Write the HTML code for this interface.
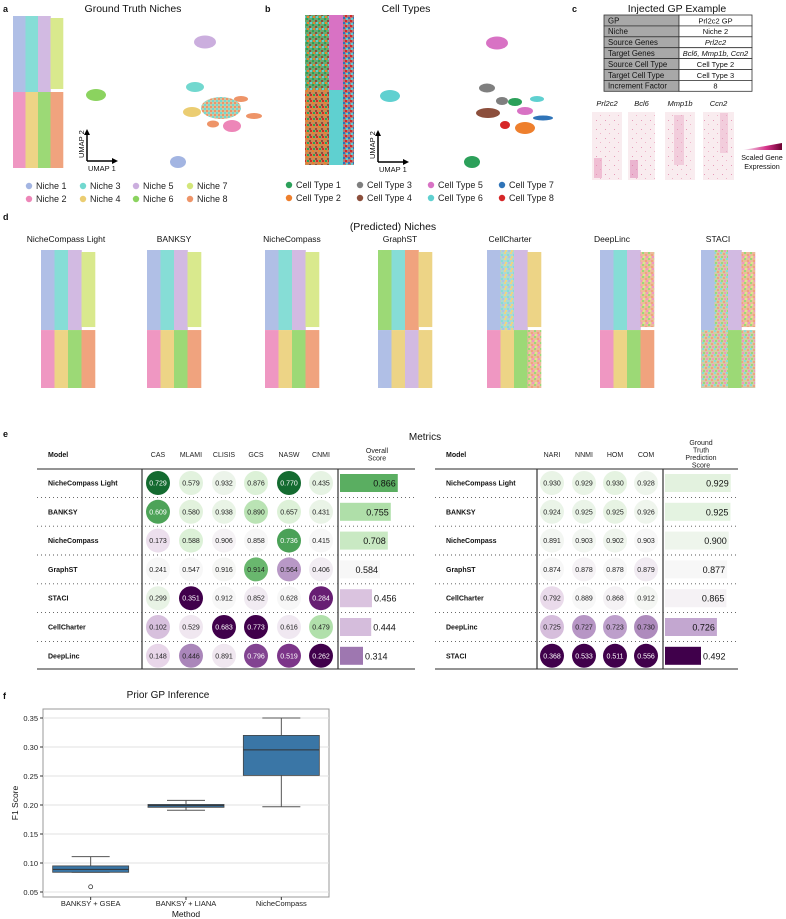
<!DOCTYPE html>
<html><head><meta charset="utf-8"><style>
html,body{margin:0;padding:0;background:#fff}
svg{display:block;font-family:"Liberation Sans",Arial,sans-serif}
</style></head><body>
<svg id="fig" width="786" height="919" viewBox="0 0 786 919" xmlns="http://www.w3.org/2000/svg">
<defs>
<pattern id="mixA" width="6" height="6" patternUnits="userSpaceOnUse"><rect width="6" height="6" fill="#9fd3c8"/><rect x="0" y="0" width="2" height="2" fill="#ebcd72"/><rect x="3" y="2" width="2" height="2" fill="#72d8cf"/><rect x="1" y="4" width="2" height="2" fill="#ebcd72"/><rect x="4" y="4" width="2" height="2" fill="#a3b5e2"/></pattern>
<pattern id="mixB" width="6" height="6" patternUnits="userSpaceOnUse"><rect width="6" height="6" fill="#e8b08a"/><rect x="0" y="0" width="2" height="2" fill="#8bd35f"/><rect x="3" y="2" width="2" height="2" fill="#ee9468"/><rect x="1" y="4" width="2" height="2" fill="#d3e67a"/><rect x="4" y="4" width="2" height="2" fill="#ed86b8"/></pattern>
<pattern id="mixC" width="6" height="6" patternUnits="userSpaceOnUse"><rect width="6" height="6" fill="#c9c49a"/><rect x="0" y="0" width="2" height="2" fill="#72d8cf"/><rect x="3" y="1" width="2" height="2" fill="#ee9468"/><rect x="1" y="4" width="2" height="2" fill="#8bd35f"/><rect x="4" y="4" width="2" height="2" fill="#ed86b8"/></pattern>
<pattern id="ctTop" width="6" height="6" patternUnits="userSpaceOnUse"><rect width="6" height="6" fill="#6aa870"/><rect x="0" y="0" width="2" height="2" fill="#2ca05a"/><rect x="3" y="2" width="2" height="2" fill="#8c4f3c"/><rect x="1" y="4" width="2" height="2" fill="#ee7f2d"/><rect x="4" y="4" width="2" height="2" fill="#5fd0d0"/></pattern>
<pattern id="ctBot" width="6" height="6" patternUnits="userSpaceOnUse"><rect width="6" height="6" fill="#c98a55"/><rect x="0" y="0" width="2" height="2" fill="#ee7f2d"/><rect x="3" y="2" width="2" height="2" fill="#8c4f3c"/><rect x="1" y="4" width="2" height="2" fill="#2ca05a"/><rect x="4" y="4" width="2" height="2" fill="#d62728"/></pattern>
<pattern id="ctR" width="5" height="5" patternUnits="userSpaceOnUse"><rect width="5" height="5" fill="#b07a7a"/><rect x="0" y="0" width="2" height="2" fill="#d62728"/><rect x="3" y="2" width="2" height="2" fill="#2f74b8"/><rect x="1" y="3" width="2" height="2" fill="#5fd0d0"/></pattern>
<pattern id="gene" width="9" height="9" patternUnits="userSpaceOnUse"><rect width="9" height="9" fill="#f9ecef"/><rect x="2" y="3" width="1" height="1" fill="#e59ab8"/><rect x="6" y="7" width="1" height="1" fill="#eeb5c8"/></pattern>
<pattern id="umapMix" width="4" height="4" patternUnits="userSpaceOnUse"><rect width="4" height="4" fill="#c7c9a8"/><rect width="2" height="2" fill="#72d8cf"/><rect x="2" y="2" width="2" height="2" fill="#ee9468"/></pattern>
<linearGradient id="cbar" x1="0" x2="1"><stop offset="0" stop-color="#f5eef5"/><stop offset="0.6" stop-color="#d6338a"/><stop offset="1" stop-color="#6b0030"/></linearGradient>
</defs>
<g id="root"></g>
</svg>
<script>
// ---------------- data ----------------
var nicheNames = ["Niche 1","Niche 2","Niche 3","Niche 4","Niche 5","Niche 6","Niche 7","Niche 8"];
var cellTypeNames = ["Cell Type 1","Cell Type 2","Cell Type 3","Cell Type 4","Cell Type 5","Cell Type 6","Cell Type 7","Cell Type 8"];
var methodNames = ["NicheCompass Light","BANKSY","NicheCompass","GraphST","CellCharter","DeepLinc","STACI"];
var leftModels = ["NicheCompass Light","BANKSY","NicheCompass","GraphST","STACI","CellCharter","DeepLinc"];
var leftMetrics = ["CAS","MLAMI","CLISIS","GCS","NASW","CNMI"];
var leftValues = [
 [0.729,0.579,0.932,0.876,0.770,0.435],
 [0.609,0.580,0.938,0.890,0.657,0.431],
 [0.173,0.588,0.906,0.858,0.736,0.415],
 [0.241,0.547,0.916,0.914,0.564,0.406],
 [0.299,0.351,0.912,0.852,0.628,0.284],
 [0.102,0.529,0.683,0.773,0.616,0.479],
 [0.148,0.446,0.891,0.796,0.519,0.262]];
var leftOverall = [0.866,0.755,0.708,0.584,0.456,0.444,0.314];
var rightModels = ["NicheCompass Light","BANKSY","NicheCompass","GraphST","CellCharter","DeepLinc","STACI"];
var rightMetrics = ["NARI","NNMI","HOM","COM"];
var rightValues = [
 [0.930,0.929,0.930,0.928],
 [0.924,0.925,0.925,0.926],
 [0.891,0.903,0.902,0.903],
 [0.874,0.878,0.878,0.879],
 [0.792,0.889,0.868,0.912],
 [0.725,0.727,0.723,0.730],
 [0.368,0.533,0.511,0.556]];
var rightOverall = [0.929,0.925,0.900,0.877,0.865,0.726,0.492];
var boxCategories = ["BANKSY + GSEA","BANKSY + LIANA","NicheCompass"];
var boxWhiskerLow = [0.084,0.191,0.197];
var boxQ1 = [0.084,0.196,0.251];
var boxMedian = [0.089,0.199,0.295];
var boxQ3 = [0.095,0.201,0.320];
var boxWhiskerHigh = [0.111,0.208,0.350];
var boxOutliers = [[0.059],[],[]];
var yTicks = [0.05,0.10,0.15,0.20,0.25,0.30,0.35];

// ---------------- helpers ----------------
var NS="http://www.w3.org/2000/svg";
var root=document.getElementById('root');
function mk(tag,attrs,parent,text){var e=document.createElementNS(NS,tag);for(var k in attrs)e.setAttribute(k,attrs[k]);if(text!==undefined)e.textContent=text;(parent||root).appendChild(e);return e;}
function txt(x,y,s,size,opts,parent){opts=opts||{};var a={x:x,y:y,'font-size':size,fill:opts.fill||'#111','text-anchor':opts.anchor||'start'};if(opts.weight)a['font-weight']=opts.weight;if(opts.style)a['font-style']=opts.style;if(opts.transform)a.transform=opts.transform;var t=mk('text',a,parent,s);return t;}
var NC={1:"#a3b5e2",2:"#ed86b8",3:"#72d8cf",4:"#ebcd72",5:"#cbaede",6:"#8bd35f",7:"#d3e67a",8:"#ee9468",A:"url(#mixA)",B:"url(#mixB)",C:"url(#mixC)"};
var CT=["#2ca05a","#ee7f2d","#7f7f7f","#8c4f3c","#d872c4","#5fd0d0","#2f74b8","#d62728"];

function tissue(x,y,w,h,top,bot,name,split){
  var g=mk('g',{opacity:0.85});
  
  
  var sw=w/4, mid=y+h*split;
  for(var i=0;i<4;i++){
    var r1=mk('rect',{x:x+i*sw,y:y+(i==3?2:0),width:sw+0.3,height:mid-y-(i==3?5:0),fill:NC[top[i]]},g);
    
    
    var r2=mk('rect',{x:x+i*sw,y:mid,width:sw+0.3,height:y+h-mid,fill:NC[bot[i]]},g);
    
    
  }
  return g;
}

// panel letters & titles
txt(3,12,"a",9,{weight:'bold',name:'panel-a-letter'});
txt(133,12,"Ground Truth Niches",10.5,{anchor:'middle',name:'panel-a-title'});
txt(265,12,"b",9,{weight:'bold',name:'panel-b-letter'});
txt(406,12,"Cell Types",10.5,{anchor:'middle',name:'panel-b-title'});
txt(572,12,"c",9,{weight:'bold',name:'panel-c-letter'});
txt(677,12,"Injected GP Example",10.5,{anchor:'middle',name:'panel-c-title'});
txt(3,220,"d",9,{weight:'bold',name:'panel-d-letter'});
txt(393,230,"(Predicted) Niches",10.5,{anchor:'middle',name:'panel-d-title'});
txt(3,437,"e",9,{weight:'bold',name:'panel-e-letter'});
txt(425,440,"Metrics",10,{anchor:'middle',name:'panel-e-title'});
txt(3,699,"f",9,{weight:'bold',name:'panel-f-letter'});

// panel a
tissue(13,16,50,152,[1,3,5,7],[2,4,6,8],'ground-truth-tissue',0.5);
function blob(cx,cy,rx,ry,fill,name){var e=mk('ellipse',{cx:cx,cy:cy,rx:rx,ry:ry,fill:fill});return e;}
blob(205,42,11,6.5,NC[5],'umap-niche5');
blob(195,87,9,5,NC[3],'umap-niche3');
blob(96,95,10,6,NC[6],'umap-niche6');
blob(241,99,7,3,NC[8],'umap-niche8-arm');
blob(254,116,8,3,NC[8],'umap-niche8-arm2');
blob(213,124,6,3.5,NC[8],'umap-niche8-arm3');
blob(221,108,20,11,'url(#umapMix)','umap-mixed-cluster');
blob(192,112,9,5,NC[4],'umap-niche4');
blob(232,126,9,6,NC[2],'umap-niche2');
blob(178,162,8,6,NC[1],'umap-niche1');
function arrows(x,y,name){
  var g=mk('g',{});
  mk('line',{x1:x,y1:y,x2:x,y2:y-27,stroke:'#000','stroke-width':1.5},g);
  mk('polygon',{points:(x-3)+','+(y-26)+' '+(x+3)+','+(y-26)+' '+x+','+(y-32),fill:'#000'},g);
  mk('line',{x1:x,y1:y,x2:x+26,y2:y,stroke:'#000','stroke-width':1.5},g);
  mk('polygon',{points:(x+25)+','+(y-3)+' '+(x+25)+','+(y+3)+' '+(x+31)+','+y,fill:'#000'},g);
  txt(x-3,y-3,"UMAP 2",7.5,{transform:'rotate(-90 '+(x-3)+' '+(y-3)+')',name:'umap2-label'},g);
  txt(x+1,y+10,"UMAP 1",7.5,{name:'umap1-label'},g);
}
arrows(87,161,'umap-axes-a');
function legend(items,colors,xs,y0,name){
  for(var i=0;i<items.length;i++){
    var col=i%4,row=Math.floor(i/4);
    var g=mk('g',{});
    mk('circle',{cx:xs[col],cy:y0+row*13-3,r:3.2,fill:colors[i]},g);
    txt(xs[col]+7,y0+row*13,items[i],9,{fill:'#222',name:'legend-label'},g);
  }
}
legend(["Niche 1","Niche 3","Niche 5","Niche 7","Niche 2","Niche 4","Niche 6","Niche 8"],[NC[1],NC[3],NC[5],NC[7],NC[2],NC[4],NC[6],NC[8]],[29,83,136,190],189,'niche-legend');

// panel b
(function(){
  var g=mk('g',{});
  mk('rect',{x:305,y:15,width:24,height:75,fill:'url(#ctTop)'},g);
  mk('rect',{x:305,y:90,width:24,height:75,fill:'url(#ctBot)'},g);
  mk('rect',{x:329,y:15,width:14,height:75,fill:CT[4]},g);
  mk('rect',{x:329,y:90,width:14,height:75,fill:CT[5]},g);
  mk('rect',{x:343,y:15,width:11,height:150,fill:'url(#ctR)'},g);
})();
blob(497,43,11,6.5,CT[4],'umap-ct5');
blob(390,96,10,6,CT[5],'umap-ct6');
blob(472,162,8,6,CT[0],'umap-ct1');
blob(487,88,8,4.5,CT[2],'umap-ct3');
blob(502,101,6,4,CT[2],'umap-ct3b');
blob(537,99,7,3,CT[5],'umap-ct6b');
blob(515,102,7,4,CT[0],'umap-ct1b');
blob(488,113,12,5,CT[3],'umap-ct4');
blob(525,111,8,4,CT[4],'umap-ct5b');
blob(543,118,10,2.5,CT[6],'umap-ct7');
blob(525,128,10,6,CT[1],'umap-ct2');
blob(505,125,5,4,CT[7],'umap-ct8');
arrows(378,162,'umap-axes-b');
legend(cellTypeNames.filter(function(_,i){return i%2==0}).concat(cellTypeNames.filter(function(_,i){return i%2==1})),[CT[0],CT[2],CT[4],CT[6],CT[1],CT[3],CT[5],CT[7]],[289,360,431,502],188,'cell-type-legend');

// panel c table
(function(){
  var rows=[["GP","Prl2c2 GP",0],["Niche","Niche 2",0],["Source Genes","Prl2c2",1],["Target Genes","Bcl6, Mmp1b, Ccn2",1],["Source Cell Type","Cell Type 2",0],["Target Cell Type","Cell Type 3",0],["Increment Factor","8",0]];
  var g=mk('g',{});
  var x0=604,xm=679,x1=752,y0=15,rh=10.9;
  rows.forEach(function(r,i){
    var y=y0+i*rh;
    mk('rect',{x:x0,y:y,width:xm-x0,height:rh,fill:'#a8a8a8',stroke:'#333','stroke-width':0.8},g);
    mk('rect',{x:xm,y:y,width:x1-xm,height:rh,fill:'#fff',stroke:'#333','stroke-width':0.8},g);
    txt(x0+4,y+8.3,r[0],7.8,{fill:'#111',name:'table-key'},g);
    txt((xm+x1)/2,y+8.3,r[1],7.5,{anchor:'middle',style:r[2]?'italic':null,name:'table-value'},g);
  });
})();
[["Prl2c2",592,622],["Bcl6",628,655],["Mmp1b",665,695],["Ccn2",703,734]].forEach(function(gn){
  var g=mk('g',{});
  mk('rect',{x:gn[1],y:112,width:gn[2]-gn[1],height:68,fill:'url(#gene)'},g);
  txt((gn[1]+gn[2])/2,106,gn[0],7.5,{anchor:'middle',style:'italic',name:'gene-label'},g);
});
mk('rect',{x:594,y:158,width:8,height:20,fill:'#e890b8',opacity:0.5});
mk('rect',{x:630,y:160,width:8,height:18,fill:'#d870a8',opacity:0.45});
mk('rect',{x:674,y:115,width:10,height:50,fill:'#e8a0c0',opacity:0.4});
mk('rect',{x:720,y:113,width:8,height:40,fill:'#e8a0c0',opacity:0.4});
var cb=mk('polygon',{points:'743,150 782,143 782,150',fill:'url(#cbar)'});

txt(762,160,"Scaled Gene",7.2,{anchor:'middle',name:'colorbar-label'});
txt(762,169,"Expression",7.2,{anchor:'middle',name:'colorbar-label'});

// panel d
var methodTissues={
 "NicheCompass Light":[[1,3,5,7],[2,4,6,8]],
 "BANKSY":[[1,3,5,7],[2,4,6,8]],
 "NicheCompass":[[1,3,5,7],[2,4,6,8]],
 "GraphST":[[6,3,8,4],[1,4,5,4]],
 "CellCharter":[[1,'A',5,4],[2,4,6,'B']],
 "DeepLinc":[[1,3,5,'B'],[2,4,6,8]],
 "STACI":[[1,'C',5,'B'],['C','C',6,'C']]};
var tissueX=[41,147,265,378,487,600,701];
var titleX=[66,174,292,400,510,612,718];
methodNames.forEach(function(m,i){
  txt(titleX[i],242,m,8.5,{anchor:'middle',name:'method-title'});
  tissue(tissueX[i],250,54,138,methodTissues[m][0],methodTissues[m][1],'predicted-niches-'+m.toLowerCase().replace(/ /g,'-'),0.58);
});

// panel e
var PRGn=["#40004b","#762a83","#9970ab","#c2a5cf","#e7d4e8","#f7f7f7","#d9f0d3","#a6dba0","#5aae61","#1b7837","#00441b"];
function hex(c){return [parseInt(c.substr(1,2),16),parseInt(c.substr(3,2),16),parseInt(c.substr(5,2),16)];}
function cmap(t){t=Math.max(-1,Math.min(1,t));var p=(t+1)/2*10,i=Math.min(9,Math.floor(p)),f=p-i;var a=hex(PRGn[i]),b=hex(PRGn[i+1]);return 'rgb('+a.map(function(v,k){return Math.round(v+(b[k]-v)*f)}).join(',')+')';}
function median(a){var s=a.slice().sort(function(x,y){return x-y});return s[Math.floor(s.length/2)];}
function scaleCol(col){var m=median(col),d=Math.max.apply(null,col.map(function(v){return Math.abs(v-m)}))||1;return function(v){return (v-m)/d;};}
function table(models,metrics,values,overall,cfg){
  var rowY=function(i){return 483+i*28.8;};
  txt(cfg.modelX,457,"Model",7,{weight:'bold',name:'model-header'});
  metrics.forEach(function(mt,j){txt(cfg.colX[j],457,mt,7,{anchor:'middle',fill:'#222',name:'metric-header'});});
  cfg.scoreHead.forEach(function(s,k){txt(cfg.scoreX,cfg.scoreHeadY+k*7.5,s,7,{anchor:'middle',fill:'#222',name:'score-header'});});
  var l=mk('line',{x1:cfg.x0,y1:469,x2:cfg.x1,y2:469,stroke:'#555','stroke-width':1.3});
  
  var b=mk('line',{x1:cfg.x0,y1:669,x2:cfg.x1,y2:669,stroke:'#555','stroke-width':1.3});
  
  cfg.vlines.forEach(function(vx){var v=mk('line',{x1:vx,y1:469,x2:vx,y2:669,stroke:'#333','stroke-width':1.2});});
  var scalers=metrics.map(function(_,j){return scaleCol(values.map(function(r){return r[j];}));});
  var os=scaleCol(overall);
  models.forEach(function(m,i){
    var y=rowY(i);
    if(i>0){var d=mk('line',{x1:cfg.x0,y1:y-14.4,x2:cfg.x1,y2:y-14.4,stroke:'#555','stroke-width':0.9,'stroke-dasharray':'1,3'});}
    txt(cfg.modelX,y+2.5,m,7,{weight:'bold',name:'model-name'});
    values[i].forEach(function(v,j){
      var t=scalers[j](v);t=t>0?t*0.85:t;
      var g=mk('g',{});
      mk('circle',{cx:cfg.colX[j],cy:y,r:12,fill:cmap(t)},g);
      txt(cfg.colX[j],y+2.5,v.toFixed(3),7,{anchor:'middle',fill:Math.abs(t)>0.6?'#fff':'#222',name:'metric-value'},g);
    });
    var v=overall[i],w=cfg.barA+cfg.barB*(v-cfg.barV0),t=os(v)*cfg.barK;
    var g=mk('g',{});
    mk('rect',{x:cfg.barX,y:y-9,width:w,height:18,fill:cmap(t)},g);
    var inside=v>=0.5;
    txt(inside?cfg.barX+w-2:cfg.barX+w+2,y+3.5,v.toFixed(3),9,{anchor:inside?'end':'start',fill:'#111',name:'overall-score-value'},g);
  });
}
table(leftModels,leftMetrics,leftValues,leftOverall,{modelX:48,colX:[158,191,224,256,289,321],x0:37,x1:415,vlines:[142,338],scoreX:377,scoreHead:["Overall","Score"],scoreHeadY:453,barX:340,barA:23,barB:63,barV0:0.314,barK:0.6});
table(rightModels,rightMetrics,rightValues,rightOverall,{modelX:446,colX:[552,584,615,646],x0:435,x1:738,vlines:[537,663],scoreX:701,scoreHead:["Ground","Truth","Prediction","Score"],scoreHeadY:445,barX:665,barA:36,barB:68,barV0:0.492,barK:1.0});

// panel f boxplot
(function(){
  var L=43,R=329,T=709,B=897;
  var y=function(v){return 718+(0.35-v)/0.30*174;};
  var xc=function(i){return L+(R-L)*(i+0.5)/boxCategories.length;};
  txt(168,698,"Prior GP Inference",10,{anchor:'middle',name:'panel-f-title'});
  var ax=mk('rect',{x:L,y:T,width:R-L,height:B-T,fill:'none',stroke:'#999','stroke-width':1});
  
  yTicks.forEach(function(t){
    var gl=mk('line',{x1:L,y1:y(t),x2:R,y2:y(t),stroke:'#e2e2e2','stroke-width':1});
    
    mk('line',{x1:L-3,y1:y(t),x2:L,y2:y(t),stroke:'#333'});
    txt(L-5,y(t)+3,t.toFixed(2),7.5,{anchor:'end',fill:'#222',name:'y-tick-label'});
  });
  boxCategories.forEach(function(c,i){
    var g=mk('g',{});
    var x=xc(i),hw=38,cw=19;
    mk('line',{x1:x,y1:y(boxWhiskerLow[i]),x2:x,y2:y(boxQ1[i]),stroke:'#555'},g);
    mk('line',{x1:x,y1:y(boxQ3[i]),x2:x,y2:y(boxWhiskerHigh[i]),stroke:'#555'},g);
    mk('line',{x1:x-cw,y1:y(boxWhiskerLow[i]),x2:x+cw,y2:y(boxWhiskerLow[i]),stroke:'#555'},g);
    mk('line',{x1:x-cw,y1:y(boxWhiskerHigh[i]),x2:x+cw,y2:y(boxWhiskerHigh[i]),stroke:'#555'},g);
    mk('rect',{x:x-hw,y:y(boxQ3[i]),width:hw*2,height:Math.max(1,y(boxQ1[i])-y(boxQ3[i])),fill:'#3a76a6',stroke:'#444','stroke-width':0.8},g);
    mk('line',{x1:x-hw,y1:y(boxMedian[i]),x2:x+hw,y2:y(boxMedian[i]),stroke:'#333'},g);
    boxOutliers[i].forEach(function(o){mk('circle',{cx:x,cy:y(o),r:2,fill:'none',stroke:'#333','stroke-width':0.8},g);});
    mk('line',{x1:x,y1:B,x2:x,y2:B+3,stroke:'#333'});
    txt(x,906,c,7.5,{anchor:'middle',fill:'#222',name:'x-tick-label'});
  });
  txt(186,917,"Method",8.5,{anchor:'middle',name:'x-axis-title'});
  txt(18,803,"F1 Score",8.5,{anchor:'middle',transform:'rotate(-90 18 803)',name:'y-axis-title'});
})();
</script>
</body></html>
